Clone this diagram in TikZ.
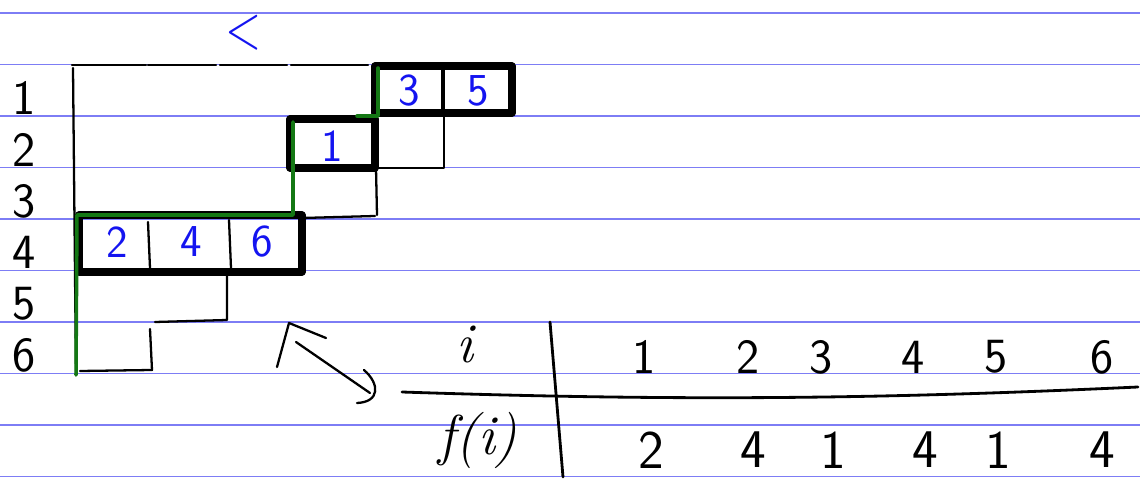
\documentclass[tikz,border=0pt]{standalone}
\usepackage{amsmath,amssymb}
\usepackage{tikz}
\usepackage{xcolor}
\definecolor{ruleblue}{RGB}{125,125,245}
\definecolor{inkblue}{RGB}{20,20,240}
\definecolor{pathgreen}{RGB}{20,120,20}

\begin{document}
\begin{tikzpicture}[x=0.02cm,y=-0.02cm,line cap=round,line join=round,
  hand/.style={line width=1.3pt},
  heavy/.style={line width=4pt},
  digit/.style={font=\fontsize{28}{30}\selectfont\sffamily},
  bigdigit/.style={font=\fontsize{31}{33}\selectfont\sffamily},
  entry/.style={inkblue,font=\fontsize{26}{28}\selectfont\sffamily},
  headlab/.style={font=\fontsize{32}{34}\selectfont\itshape}]
  % ruled page, staircase of rows 1..6 with the filled cells, the lattice path, and the table of f
  \useasboundingbox (0,0) rectangle (1140,479);
  \foreach \k in {0,...,9}
    \draw[ruleblue,line width=1pt] (0,{13+51.5*\k}) -- (1140,{13+51.5*\k});
  \node[inkblue,inner sep=0pt,xscale=0.75,font=\fontsize{36}{36}\selectfont] (less) at (244,33) {\textless};
  \foreach \r in {1,...,6}
    \node[digit] (row\r) at (24,{98+51.5*(\r-1)}) {\r};
  % outline of the staircase
  \foreach \a/\b in {72/146,148/216,220/287,291/368}
    \draw[hand] (\a,65) -- (\b,65);
  \draw[hand] (73,68) -- (76,375);
  \draw[hand] (375,168) -- (444,168) -- (444,116);
  \draw[hand] (376,168) -- (377,215);
  \draw[hand] (302,218) -- (375,216);
  \draw[hand] (227,274) -- (227,320) -- (155,322);
  \draw[hand] (150,329) -- (152,370) -- (80,371);
  % filled cells
  \draw[heavy] (375,66) rectangle (512,113);
  \draw[line width=2.5pt] (443,68) -- (443,112);
  \draw[heavy] (290,119) rectangle (375,168);
  \draw[heavy] (79,215) rectangle (302,272);
  \draw[hand] (148,222) -- (150,268);
  \draw[hand] (229,220) -- (231,268);
  \node[entry] (cellc) at (409,91) {3};
  \node[entry] (celle) at (478,91) {5};
  \node[entry] (cella) at (332,146) {1};
  \node[entry] (cellb) at (117,242) {2};
  \node[entry] (celld) at (191,242) {4};
  \node[entry] (cellf) at (262,242) {6};
  \draw[pathgreen,line width=2pt] (76,375) -- (77,215) -- (293,215) -- (293,122);
  \draw[pathgreen,line width=2pt] (357,116) -- (378,116) -- (378,68);
  % arrow over to the table
  \coordinate (tip) at (289,323);
  \coordinate (wingl) at (277,367);
  \coordinate (wingr) at (326,338);
  \coordinate (tail) at (296,342);
  \coordinate (tailend) at (370,393);
  \draw[hand] (wingl) -- (tip) -- (wingr);
  \draw[hand] (tail) -- (tailend);
  \draw[hand] (364,370) .. controls (380,384) and (380,402) .. (357,403);
  % table of f
  \draw[line width=1.6pt] (550,322) -- (563,477);
  \draw[line width=1.6pt] (402,392) .. controls (700,402) and (900,398) .. (1138,387);
  \node[headlab] (ilab) at (465,345) {i};
  \node[headlab] (flab) at (478,440) {f(i)};
  \foreach \x/\v [count=\n] in {644/1,748/2,821/3,913/4,996/5,1102/6}
    \node[digit] (top\n) at (\x,357) {\v};
  \foreach \x/\v [count=\n] in {651/2,753/4,833/1,925/4,998/1,1102/4}
    \node[bigdigit] (bot\n) at (\x,450) {\v};
\end{tikzpicture}
\end{document}
